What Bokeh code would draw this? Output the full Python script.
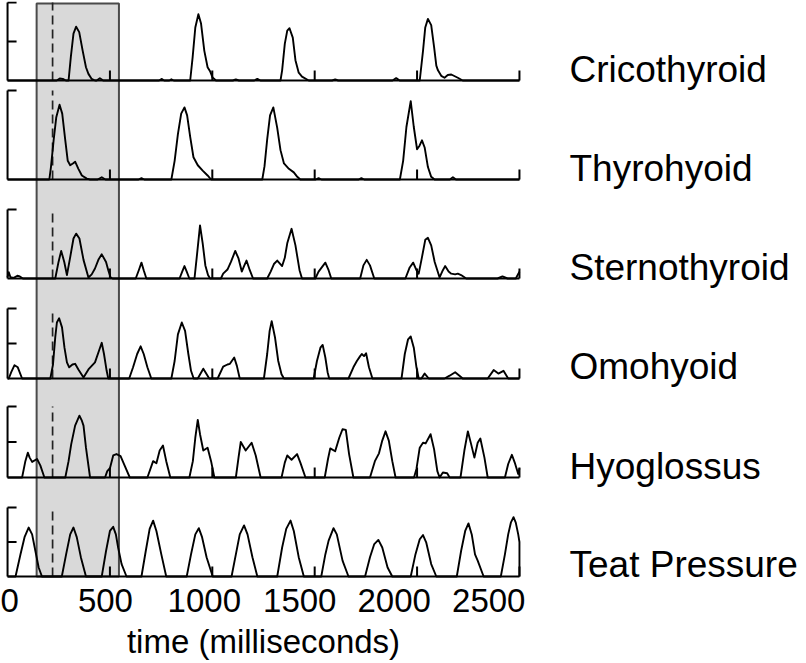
from bokeh.plotting import figure
from bokeh.models import Range1d, LinearAxis, FixedTicker
from bokeh.embed import file_html
from bokeh.resources import INLINE

# ---------------- data (time in ms, normalised amplitude) ----------------
NAMES = ["Cricothyroid", "Thyrohyoid", "Sternothyroid", "Omohyoid",
         "Hyoglossus", "Teat Pressure"]

CRICOTHYROID = [(0, 0), (240, 0), (255, 0.025), (270, 0.02), (285, 0), (298, 0),
    (309, 0.3), (322, 0.6), (335, 0.69), (350, 0.62), (367, 0.38), (383, 0.17),
    (395, 0.085), (411, 0.02), (427, 0), (435, 0), (451, 0.03), (467, 0),
    (740, 0), (752, 0.02), (765, 0), (790, 0), (800, 0.015), (812, 0), (880, 0),
    (892, 0), (904, 0.3), (917, 0.68), (932, 0.85), (945, 0.73), (961, 0.38),
    (977, 0.17), (989, 0.12), (1001, 0.04), (1018, 0), (1100, 0), (1115, 0.015),
    (1130, 0), (1205, 0), (1220, 0.02), (1235, 0), (1333, 0), (1341, 0.13),
    (1354, 0.47), (1366, 0.64), (1377, 0.67), (1393, 0.55), (1406, 0.26),
    (1422, 0.10), (1438, 0.05), (1471, 0), (1585, 0), (1600, 0.015), (1615, 0),
    (1880, 0), (1898, 0.03), (1915, 0), (2013, 0), (2029, 0.38), (2040, 0.68),
    (2053, 0.79), (2069, 0.71), (2083, 0.43), (2094, 0.19), (2102, 0.13),
    (2118, 0.06), (2134, 0.035), (2150, 0.07), (2167, 0.077), (2199, 0.035),
    (2223, 0), (2500, 0)]

THYROHYOID = [(0, 0), (204, 0), (212, 0.14), (225, 0.44), (238, 0.7), (254, 0.84),
    (267, 0.74), (282, 0.44), (294, 0.21), (306, 0.16), (319, 0.18), (330, 0.2),
    (346, 0.12), (363, 0.045), (387, 0.01), (403, 0), (440, 0), (460, 0.025),
    (478, 0), (640, 0), (654, 0.015), (668, 0), (800, 0), (816, 0.21), (832, 0.51),
    (848, 0.74), (864, 0.81), (877, 0.72), (892, 0.48), (908, 0.25), (929, 0.16),
    (953, 0.1), (977, 0.045), (994, 0), (1244, 0), (1255, 0.15), (1268, 0.45),
    (1282, 0.72), (1298, 0.81), (1317, 0.58), (1333, 0.33), (1350, 0.18),
    (1374, 0.12), (1398, 0.08), (1415, 0.03), (1430, 0), (1505, 0), (1519, 0.015),
    (1533, 0), (1715, 0), (1728, 0.015), (1742, 0), (1916, 0), (1932, 0.21),
    (1948, 0.59), (1969, 0.88), (1984, 0.59), (2000, 0.34), (2012, 0.38),
    (2024, 0.44), (2037, 0.36), (2053, 0.14), (2069, 0.03), (2086, 0), (2160, 0),
    (2175, 0.025), (2190, 0), (2500, 0)]

STERNOTHYROID = [(0, 0.02), (6, 0.09), (14, 0.02), (30, 0.01), (48, 0.04),
    (60, 0.03), (75, 0), (233, 0), (249, 0.24), (262, 0.40), (277, 0.24),
    (290, 0.05), (306, 0.31), (322, 0.58), (335, 0.65), (351, 0.58), (371, 0.27),
    (395, 0.015), (411, 0.06), (427, 0.145), (445, 0.28), (460, 0.35), (481, 0.24),
    (492, 0.12), (503, 0.015), (513, 0), (626, 0), (641, 0.12), (654, 0.23),
    (665, 0.12), (678, 0), (840, 0), (853, 0.1), (864, 0.18), (875, 0.1), (888, 0),
    (913, 0), (924, 0.31), (940, 0.77), (953, 0.51), (966, 0.19), (979, 0.05),
    (989, 0), (1042, 0), (1053, 0.07), (1074, 0.13), (1091, 0.24), (1112, 0.40),
    (1128, 0.29), (1144, 0.10), (1155, 0.18), (1167, 0.26), (1183, 0.12),
    (1199, 0), (1268, 0), (1285, 0.1), (1301, 0.21), (1317, 0.26), (1341, 0.18),
    (1354, 0.3), (1366, 0.51), (1387, 0.72), (1406, 0.48), (1426, 0.12),
    (1438, 0), (1503, 0), (1519, 0.1), (1552, 0.23), (1568, 0.12), (1581, 0),
    (1722, 0), (1738, 0.19), (1754, 0.27), (1770, 0.19), (1791, 0), (1943, 0),
    (1964, 0.16), (1981, 0.23), (1997, 0.12), (2008, 0.07), (2024, 0.31),
    (2040, 0.56), (2053, 0.59), (2069, 0.48), (2086, 0.24), (2110, 0.015),
    (2126, 0.12), (2137, 0.18), (2154, 0.1), (2167, 0.07), (2186, 0.06),
    (2199, 0.07), (2215, 0.05), (2240, 0), (2393, 0), (2417, 0.03), (2442, 0),
    (2482, 0), (2500, 0.1)]

OMOHYOID = [(0, 0), (6, 0), (18, 0.09), (34, 0.19), (50, 0.16), (71, 0), (209, 0),
    (222, 0.2), (233, 0.59), (241, 0.8), (252, 0.86), (266, 0.73), (278, 0.44),
    (290, 0.23), (301, 0.16), (317, 0.2), (330, 0.21), (346, 0.13), (371, 0.015),
    (395, 0.13), (427, 0.23), (447, 0.4), (460, 0.51), (471, 0.35), (484, 0.11),
    (492, 0), (594, 0), (613, 0.16), (633, 0.35), (650, 0.46), (665, 0.35),
    (683, 0.16), (702, 0), (800, 0), (816, 0.25), (832, 0.63), (851, 0.8),
    (867, 0.68), (883, 0.35), (896, 0.11), (909, 0), (929, 0), (956, 0.14),
    (985, 0), (1026, 0), (1053, 0.17), (1074, 0.2), (1086, 0.21), (1107, 0.3),
    (1120, 0.18), (1134, 0), (1252, 0), (1268, 0.35), (1280, 0.68), (1290, 0.82),
    (1306, 0.59), (1322, 0.25), (1338, 0.06), (1350, 0), (1495, 0), (1511, 0.25),
    (1528, 0.44), (1539, 0.48), (1552, 0.3), (1563, 0.09), (1571, 0), (1665, 0),
    (1689, 0.16), (1706, 0.25), (1722, 0.32), (1730, 0.35), (1741, 0.32),
    (1751, 0.36), (1765, 0.16), (1782, 0), (1924, 0), (1940, 0.35), (1956, 0.56),
    (1969, 0.6), (1984, 0.44), (1997, 0.16), (2008, 0), (2021, 0), (2037, 0.07),
    (2057, 0), (2134, 0), (2159, 0.04), (2186, 0.09), (2207, 0.04), (2223, 0),
    (2345, 0), (2374, 0.12), (2397, 0.07), (2422, 0.11), (2445, 0), (2500, 0)]

HYOGLOSSUS = [(0, 0), (71, 0), (87, 0.23), (99, 0.35), (108, 0.28), (120, 0.22),
    (144, 0.26), (160, 0.17), (180, 0), (282, 0), (298, 0.23), (311, 0.47),
    (330, 0.73), (351, 0.87), (363, 0.8), (371, 0.73), (383, 0.42), (403, 0),
    (476, 0), (487, 0.09), (500, 0.13), (516, 0.31), (532, 0.33), (552, 0.3),
    (573, 0.16), (597, 0), (683, 0), (711, 0.23), (727, 0.2), (743, 0.38),
    (759, 0.45), (775, 0.23), (795, 0), (888, 0), (905, 0.23), (917, 0.56),
    (929, 0.81), (940, 0.61), (956, 0.38), (977, 0.42), (994, 0.23), (1010, 0),
    (1115, 0), (1128, 0.28), (1139, 0.5), (1163, 0.38), (1192, 0.49), (1212, 0.31),
    (1236, 0), (1338, 0), (1354, 0.21), (1366, 0.31), (1387, 0.25), (1414, 0.33),
    (1430, 0.21), (1455, 0), (1549, 0), (1565, 0.26), (1576, 0.41), (1600, 0.37),
    (1620, 0.56), (1636, 0.68), (1652, 0.67), (1668, 0.33), (1689, 0), (1770, 0),
    (1794, 0.23), (1814, 0.34), (1830, 0.52), (1846, 0.65), (1862, 0.52),
    (1879, 0.23), (1895, 0), (1985, 0), (1997, 0.12), (2013, 0.42), (2029, 0.49),
    (2042, 0.48), (2066, 0.61), (2083, 0.4), (2099, 0.09), (2110, 0), (2126, 0.07),
    (2147, 0.06), (2159, 0), (2212, 0), (2231, 0.38), (2248, 0.65), (2264, 0.47),
    (2280, 0.28), (2296, 0.49), (2309, 0.55), (2329, 0.28), (2345, 0), (2429, 0),
    (2445, 0.19), (2463, 0.32), (2477, 0.21), (2494, 0.05), (2500, 0.13)]

TEAT_PRESSURE = [(0, 0), (39, 0), (63, 0.32), (83, 0.57), (103, 0.71), (120, 0.61),
    (136, 0.37), (152, 0.13), (168, 0), (265, 0), (286, 0.32), (306, 0.61),
    (322, 0.71), (338, 0.57), (358, 0.28), (383, 0), (460, 0), (481, 0.37),
    (500, 0.66), (516, 0.72), (529, 0.61), (540, 0.42), (557, 0.18), (581, 0),
    (654, 0), (675, 0.37), (694, 0.69), (711, 0.81), (727, 0.66), (751, 0.32),
    (775, 0), (875, 0), (896, 0.32), (917, 0.61), (934, 0.70), (950, 0.57),
    (972, 0.28), (1002, 0), (1094, 0), (1115, 0.32), (1134, 0.61), (1155, 0.74),
    (1172, 0.61), (1196, 0.28), (1220, 0), (1317, 0), (1341, 0.42), (1361, 0.69),
    (1382, 0.81), (1398, 0.66), (1422, 0.28), (1447, 0), (1532, 0), (1552, 0.32),
    (1568, 0.52), (1592, 0.70), (1608, 0.61), (1636, 0.23), (1665, 0), (1746, 0),
    (1770, 0.28), (1791, 0.47), (1811, 0.53), (1830, 0.42), (1856, 0.13),
    (1879, 0), (1969, 0), (1992, 0.32), (2013, 0.54), (2029, 0.6), (2045, 0.49),
    (2069, 0.18), (2094, 0), (2194, 0), (2215, 0.37), (2235, 0.66), (2251, 0.77),
    (2267, 0.61), (2283, 0.32), (2296, 0.23), (2325, 0), (2409, 0), (2429, 0.32),
    (2445, 0.61), (2458, 0.78), (2471, 0.86), (2482, 0.78), (2494, 0.61),
    (2500, 0.5), (2500, 0)]

SERIES = [CRICOTHYROID, THYROHYOID, STERNOTHYROID, OMOHYOID, HYOGLOSSUS, TEAT_PRESSURE]
MID_TICK = [True, False, False, True, True, True]

X_MAX = 2500
X_TICKS = [500, 1000, 1500, 2000, 2500]
TICK_LABELS = ["0", "500", "1000", "1500", "2000", "2500"]
TICK_LABEL_POS = [4, 478, 961, 1427, 1888, 2350]
WINDOW = (142, 544)        # shaded analysis window (ms)
EVENT_T = 220              # dashed event marker (ms)

# ---------------- layout (rows in screen pixels of the page) ----------------
FONT = "Liberation Sans"
PANEL_TOP = [2, 90, 209, 308, 406, 507]
PANEL_BASE = [80, 179, 278, 378, 477, 576]
LABEL_ROW = [69, 168, 267, 366, 466, 564]
FRAME_TOP, FRAME_BOTTOM = 1, 578
LEFT_TICK_MS = 44
BOTTOM_TICK_ROWS = 10

p = figure(width=800, height=662, x_range=Range1d(-10, 2510),
           y_range=Range1d(FRAME_BOTTOM, FRAME_TOP),
           output_backend="svg", toolbar_location=None,
           x_axis_location=None, y_axis_location=None,
           min_border_left=5, min_border_right=0, min_border_top=1,
           min_border_bottom=0)
p.outline_line_color = None
p.background_fill_color = "white"
p.border_fill_color = "white"
p.xgrid.visible = False
p.ygrid.visible = False

ranges = {}
for i in range(len(NAMES)):
    h = PANEL_BASE[i] - PANEL_TOP[i]
    ranges[f"p{i}"] = Range1d((PANEL_BASE[i] - FRAME_BOTTOM) / h, (PANEL_BASE[i] - FRAME_TOP) / h)
p.extra_y_ranges = ranges

# shaded window
p.quad(left=[WINDOW[0]], right=[WINDOW[1]], top=[3], bottom=[PANEL_BASE[-1]],
       fill_color="#d9d9d9", line_color="#4a4a4a", line_width=2)

for i, (name, data) in enumerate(zip(NAMES, SERIES)):
    rn = f"p{i}"
    h = PANEL_BASE[i] - PANEL_TOP[i]
    t = [d[0] for d in data]
    v = [d[1] for d in data]
    # event marker
    p.segment(x0=[EVENT_T], y0=[0], x1=[EVENT_T], y1=[1], y_range_name=rn,
              line_color="#222222", line_width=1.7, line_dash="9 5")
    # axis frame of the panel
    p.segment(x0=[0], y0=[0], x1=[X_MAX], y1=[0], y_range_name=rn,
              line_color="black", line_width=2)
    p.segment(x0=[0], y0=[0], x1=[0], y1=[1], y_range_name=rn,
              line_color="black", line_width=2)
    ly = [1, 0.5] if MID_TICK[i] else [1]
    p.segment(x0=[0] * len(ly), y0=ly, x1=[LEFT_TICK_MS] * len(ly), y1=ly,
              y_range_name=rn, line_color="black", line_width=2)
    p.segment(x0=X_TICKS, y0=[0] * len(X_TICKS), x1=X_TICKS,
              y1=[BOTTOM_TICK_ROWS / h] * len(X_TICKS), y_range_name=rn,
              line_color="black", line_width=2)
    # trace
    p.line(t, v, y_range_name=rn, line_color="black", line_width=1.9,
           line_join="round")

# muscle names as labels of a right-hand axis
rax = LinearAxis(ticker=FixedTicker(ticks=LABEL_ROW),
                 major_label_overrides={r: n for r, n in zip(LABEL_ROW, NAMES)},
                 axis_line_color=None, major_tick_line_color=None,
                 minor_tick_line_color=None, major_label_standoff=42,
                 major_label_text_font=FONT, major_label_text_font_size="37px",
                 major_label_text_color="black")
p.add_layout(rax, "right")

ax = LinearAxis(ticker=FixedTicker(ticks=TICK_LABEL_POS),
                major_label_overrides={pos: lab for pos, lab in zip(TICK_LABEL_POS, TICK_LABELS)},
                axis_label="time (milliseconds)",
                axis_line_color=None, major_tick_line_color=None,
                minor_tick_line_color=None,
                major_label_text_font=FONT, major_label_text_font_size="33px",
                major_label_text_color="black",
                axis_label_text_font=FONT, axis_label_text_font_size="33px",
                axis_label_text_font_style="normal", axis_label_text_color="black",
                major_label_standoff=4, axis_label_standoff=8)
p.add_layout(ax, "below")

open("out.html", "w").write(file_html(p, INLINE))
